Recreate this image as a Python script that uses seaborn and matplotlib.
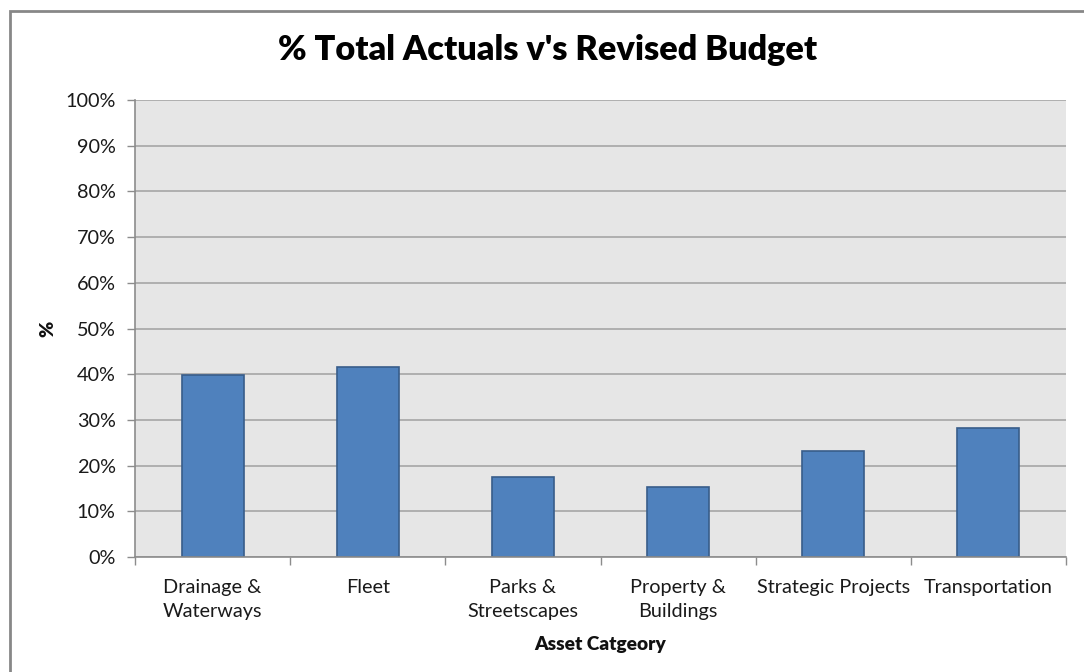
import matplotlib
matplotlib.use("Agg")
import matplotlib.pyplot as plt
import matplotlib.patches as mpatches
from matplotlib.ticker import FuncFormatter, FixedLocator
import pandas as pd
import seaborn as sns

categories = ["Drainage &\nWaterways", "Fleet", "Parks &\nStreetscapes",
              "Property &\nBuildings", "Strategic Projects", "Transportation"]
pct_values = [39.8, 41.6, 17.5, 15.3, 23.3, 28.2]
y_ticks = [0, 10, 20, 30, 40, 50, 60, 70, 80, 90, 100]

df = pd.DataFrame({"category": categories, "pct": pct_values})

sns.set_style("white")
plt.rcParams["font.family"] = ["Lato", "DejaVu Sans"]

fig = plt.figure(figsize=(10.84, 6.72), dpi=100)
ax = fig.add_axes([135 / 1084, 1 - 557 / 672, (1066 - 135) / 1084, (557 - 100) / 672])

ax.set_facecolor("#e6e6e6")
ax.set_axisbelow(True)
ax.yaxis.grid(True, color="#a6a6a6", linewidth=1.2)

sns.barplot(data=df, x="category", y="pct", ax=ax, width=0.4,
            color="#4f81bd", edgecolor="#385d8a", linewidth=1.2, saturation=1)

ax.set_xlim(-0.5, 5.5)
ax.set_ylim(0, 100)
ax.yaxis.set_major_locator(FixedLocator(y_ticks))
ax.yaxis.set_major_formatter(FuncFormatter(lambda v, p: f"{v:.0f}%"))
ax.tick_params(axis="y", direction="out", length=6, color="#8c8c8c", width=1,
               labelsize=14.3, labelcolor="#1a1a1a", left=True, pad=8)
ax.tick_params(axis="x", which="major", length=0, labelsize=14.3,
               labelcolor="#1a1a1a", pad=16)
for lbl in ax.get_xticklabels():
    lbl.set_linespacing(1.45)
ax.set_xticks([i - 0.5 for i in range(7)], minor=True)
ax.tick_params(axis="x", which="minor", direction="out", length=6,
               color="#8c8c8c", width=1, bottom=True)

for side in ["top", "right"]:
    ax.spines[side].set_visible(False)
for side in ["left", "bottom"]:
    ax.spines[side].set_color("#8c8c8c")
    ax.spines[side].set_linewidth(1.2)

ax.set_xlabel("Asset Catgeory", fontsize=13.8, fontweight="heavy",
              color="#111111", labelpad=12)
ax.set_ylabel("%", fontsize=14, fontweight="heavy", color="#111111", labelpad=6)
fig.suptitle("% Total Actuals v's Revised Budget", fontsize=24.7, fontweight="heavy",
             color="#000000", x=548 / 1084, y=1 - 50 / 672, va="center")

frame = mpatches.Rectangle((10 / 1084, -0.1), 1.2, 1 - 11 / 672 + 0.1,
                           transform=fig.transFigure, fill=False,
                           edgecolor="#878787", linewidth=2)
fig.patches.append(frame)

fig.savefig("out.png", dpi=100)
